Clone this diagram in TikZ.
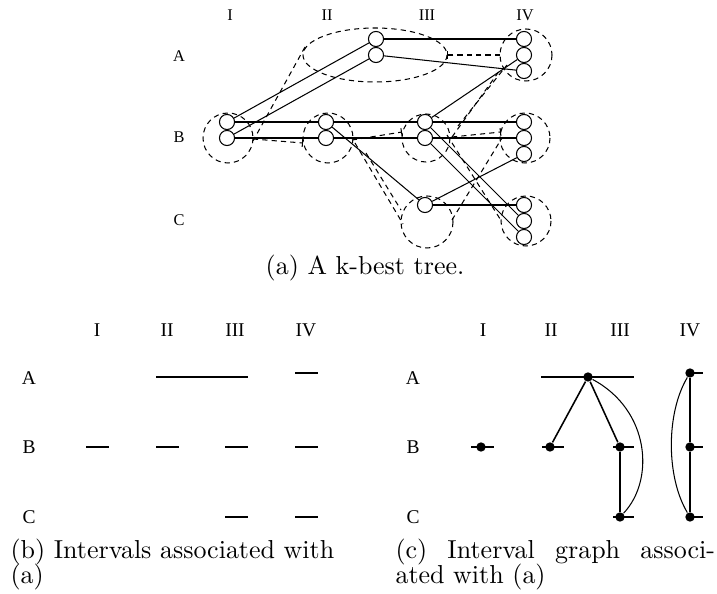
\documentclass[tikz,border=0pt]{standalone}
\usepackage{fontspec}
\usetikzlibrary{arrows.meta}
\newfontfamily\figfont{Liberation Serif}
\tikzset{
  st/.style={circle,draw,minimum size=5.8pt,inner sep=0pt},
  grp/.style={dash pattern=on 2pt off 1.6pt},
  lbl/.style={font=\figfont\fontsize{6.3}{7}\selectfont},
  blbl/.style={font=\figfont\fontsize{7.5}{8}\selectfont},
  pt/.style={circle,fill,minimum size=3.6pt,inner sep=0pt},
  tick/.style={-{Bar[width=3pt]}},
}

\begin{document}
\begin{tikzpicture}[x=0.385pt,y=-0.385pt]
\useasboundingbox (0,0) rectangle (717,594);
% (a) the tree
\foreach \t/\x in {I/230,II/327,III/427,IV/525} \node[lbl] at (\x,15) {\t};
\foreach \t/\y in {A/56,B/137,C/220} \node[lbl] at (179,\y) {\t};
\node[st] (Ib1) at (227,122) {};
\node[st] (Ib2) at (227,138) {};
\node[st] (IIa1) at (376,39) {};
\node[st] (IIa2) at (376,55) {};
\node[st] (IIb1) at (326,122) {};
\node[st] (IIb2) at (326,138) {};
\node[st] (IIIb1) at (425,122) {};
\node[st] (IIIb2) at (425,138) {};
\node[st] (IIIc1) at (425,205) {};
\foreach \i/\y in {1/39,2/55,3/71} \node[st] (IVa\i) at (524,\y) {};
\foreach \i/\y in {1/122,2/138,3/154} \node[st] (IVb\i) at (524,\y) {};
\foreach \i/\y in {1/205,2/221,3/237} \node[st] (IVc\i) at (524,\y) {};
% groups
\draw[grp] (228,138) ellipse [x radius=25,y radius=25];
\draw[grp] (375,55) ellipse [x radius=72,y radius=27];
\draw[grp] (328,138) ellipse [x radius=25,y radius=25];
\draw[grp] (426,138) ellipse [x radius=24,y radius=24];
\draw[grp] (427,222) ellipse [x radius=26,y radius=26];
\draw[grp] (526,55) ellipse [x radius=26,y radius=26];
\draw[grp] (525,138) ellipse [x radius=25,y radius=25];
\draw[grp] (526,221) ellipse [x radius=25,y radius=25];
% hull lines
\draw[grp] (305,47) -- (253,141);
\draw[grp,tick] (253,139) -- (303,143);
\draw[grp,tick] (352,140) -- (402,132);
\draw[grp] (355,143) -- (403,224);
\draw[grp] (366,153) -- (401,210);
\draw[grp,tick] (500,55) -- (447,55);
\draw[grp,tick] (452,137) -- (501,132);
\draw[grp] (452,137) -- (500,70);
\draw[grp] (458,126) -- (507,65);
\draw[grp] (447,135) -- (502,222);
\draw[grp] (452,220) -- (502,138);
% edges
\draw (Ib1) -- (IIa1);
\draw (Ib2) -- (IIa2);
\draw (Ib1) -- (IIb1);
\draw (Ib2) -- (IIb2);
\draw (IIa1) -- (IVa1);
\draw (IIa2) -- (IVa3);
\draw (IIb1) -- (IIIb1);
\draw (IIb2) -- (IIIb2);
\draw (IIb1) -- (IIIc1);
\draw (IIIb1) -- (IVa2);
\draw (IIIb1) -- (IVb1);
\draw (IIIb2) -- (IVb2);
\draw (IIIb1) -- (IVc2);
\draw (IIIb2) -- (IVc3);
\draw (IIIc1) -- (IVb3);
\draw (IIIc1) -- (IVc1);
\node (capa) at (365,268) {(a) A k-best tree.};

% (b) intervals
\foreach \t/\x in {I/97,II/167,III/235,IV/306} \node[blbl] at (\x,330) {\t};
\foreach \t/\y in {A/378,B/447,C/517} \node[blbl] at (29,\y) {\t};
\draw[semithick] (156,377) -- (248,377);
\draw[semithick] (295,373) -- (318,373);
\foreach \x in {86,156,225,295} \draw[semithick] (\x,447) -- +(23,0);
\foreach \x in {225,295} \draw[semithick] (\x,517) -- +(23,0);
\node[anchor=base west,inner sep=0] (capb) at (10,558) {(b) Intervals associated with};
\node[anchor=base west,inner sep=0] (capb2) at (10,583) {(a)};

% (c) interval graph
\foreach \t/\x in {I/483,II/551,III/620,IV/690} \node[blbl] at (\x,330) {\t};
\foreach \t/\y in {A/378,B/447,C/517} \node[blbl] at (413,\y) {\t};
\draw[semithick] (541,377) -- (634,377);
\draw[semithick] (690,373) -- (703,373);
\draw[semithick] (471,447) -- (494,447);
\draw[semithick] (542,447) -- (564,447);
\draw[semithick] (613,447) -- (634,447);
\draw[semithick] (690,447) -- (703,447);
\draw[semithick] (613,517) -- (634,517);
\draw[semithick] (690,517) -- (703,517);
\node[pt] (gA) at (588,377) {};
\node[pt] (gIVa) at (690,373) {};
\node[pt] (gIb) at (481,447) {};
\node[pt] (gIIb) at (550,447) {};
\node[pt] (gIIIb) at (620,447) {};
\node[pt] (gIVb) at (690,447) {};
\node[pt] (gIIIc) at (620,517) {};
\node[pt] (gIVc) at (690,517) {};
\draw[semithick] (gA) -- (gIIb);
\draw[semithick] (gA) -- (gIIIb);
\draw[semithick] (gIIIb) -- (gIIIc);
\draw (gA) .. controls +(62,33) and +(35,-37) .. (gIIIc);
\draw (gIVa) -- (gIVb) -- (gIVc);
\draw (gIVa) .. controls +(-24,40) and +(-24,-40) .. (gIVc);
\node[anchor=base west,inner sep=0] (capc) at (395,558) {\makebox[123pt][s]{(c) Interval graph associ-}};
\node[anchor=base west,inner sep=0] (capc2) at (395,583) {ated with (a)};
\end{tikzpicture}
\end{document}
